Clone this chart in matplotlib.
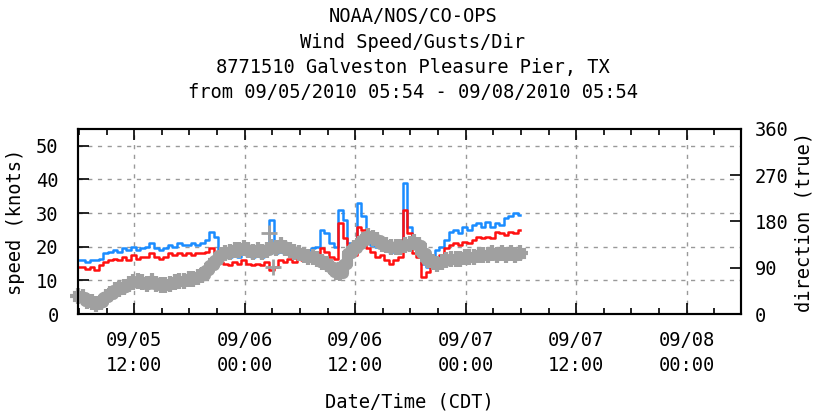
import numpy as np
import pandas as pd
import matplotlib
matplotlib.use("Agg")
import matplotlib.pyplot as plt
import matplotlib.dates as mdates

plt.rcParams['font.family'] = ['DejaVu Sans Mono']

# 30-minute samples, 09/05/2010 05:54 -> 09/07/2010 05:54 (CDT)
times = pd.date_range('2010-09-05 05:54', periods=97, freq='30min')

gust_kn = [16, 16, 15.5, 16, 16, 16.5, 18, 18.5, 19, 18.5,
           19.5, 19, 20, 19, 19.5, 20, 21, 19.5, 19, 19.5,
           20.5, 20, 21, 20.5, 20.5, 21, 20.5, 21, 22, 24.5,
           23, 18, 17.5, 17, 17.5, 17, 18, 17.5, 17, 17.5,
           17, 18, 28, 18, 18.5, 18, 18.5, 18, 19, 18.5,
           19, 19.5, 20, 25, 24, 21, 20, 31, 28, 21,
           20, 33, 29, 22, 20.5, 20, 19.5, 19, 18.5, 19,
           20, 39, 26, 21, 20, 15, 14, 16.5, 19, 20,
           22, 24.5, 25, 24, 26, 25, 26.5, 27, 26, 27.5,
           26, 27, 26.5, 28.5, 29, 30, 29.5]

speed_kn = [14, 14, 13.5, 14, 13, 14.5, 15.5, 16, 16.5, 16,
            17, 16, 17.5, 16.5, 17, 17, 18, 17, 16.5, 17,
            18, 17.5, 18, 17.5, 18, 17.5, 18, 18, 18.5, 19.5,
            18, 15.5, 15, 14.5, 15.5, 15, 16, 15, 14.5, 15,
            14.5, 15.5, 13, 14, 16, 15.5, 16.5, 15.5, 16.5, 16,
            16.5, 17, 18, 19.5, 18.5, 17, 16.5, 27, 22.5, 18,
            17.5, 26, 25, 19.5, 18.5, 17, 17.5, 16, 15, 16,
            17, 31, 24, 18, 17, 11, 12.5, 14, 17, 17.5,
            19.5, 20.5, 21, 20.5, 21.5, 21, 22, 23, 22.5, 23,
            22.5, 24.5, 24, 23.5, 24.5, 24, 25]

dir_deg = [36, 33, 26, 23, 20, 23, 33, 39, 46, 49,
           52, 59, 62, 65, 62, 59, 65, 59, 56, 56,
           59, 62, 65, 65, 69, 69, 72, 75, 85, 95,
           105, 115, 118, 121, 124, 124, 128, 124, 121, 124,
           121, 124, 131, 128, 134, 128, 124, 121, 118, 115,
           111, 111, 108, 101, 98, 92, 82, 79, 98, 118,
           128, 137, 144, 151, 147, 144, 137, 134, 131, 131,
           131, 134, 137, 141, 134, 118, 105, 101, 98, 101,
           105, 108, 108, 108, 111, 111, 111, 115, 115, 115,
           118, 115, 118, 115, 118, 115, 118]

dir_odd_times = pd.to_datetime(['2010-09-06 02:36', '2010-09-06 03:06'])
dir_odd_deg = [157, 92]

blue = '#1a8cff'
red = '#ff1010'
grey = '#a0a0a0'

fig = plt.figure(figsize=(8.18, 4.16), dpi=100)
ax = fig.add_axes([78 / 818, 1 - 314 / 416, (741 - 78) / 818, (314 - 129) / 416])
ax2 = ax.twinx()

ax.plot(times, gust_kn, color=blue, lw=1.8, drawstyle='steps-mid', zorder=3)
ax.plot(times, speed_kn, color=red, lw=1.8, drawstyle='steps-mid', zorder=4)
ax2.plot(times, dir_deg, color=grey, lw=8, marker='+', ms=12, mew=3,
         drawstyle='steps-mid', clip_on=False)
ax2.plot(dir_odd_times, dir_odd_deg, color=grey, lw=0, marker='+', ms=12, mew=2)

ax.set_xlim(pd.Timestamp('2010-09-05 05:54'), pd.Timestamp('2010-09-08 05:54'))
ax.set_ylim(0, 55)
ax2.set_ylim(0, 360)

ax.xaxis.set_major_locator(mdates.HourLocator(byhour=[0, 12]))
ax.xaxis.set_minor_locator(mdates.HourLocator(byhour=range(0, 24, 3)))
ax.xaxis.set_major_formatter(mdates.DateFormatter('%m/%d\n%H:%M'))
ax.set_yticks([0, 10, 20, 30, 40, 50])
ax2.set_yticks([0, 90, 180, 270, 360])

ax.tick_params(axis='x', which='major', direction='in', length=8, width=1.2,
               top=True, labelsize=13.5, pad=12)
ax.tick_params(axis='x', which='minor', direction='in', length=4, width=1.2, top=True)
ax.tick_params(axis='y', which='major', direction='in', length=8, width=1.2,
               labelsize=13.5, pad=14)
ax2.tick_params(axis='y', direction='in', length=8, width=1.2, labelsize=13.5, pad=10)
for lab in ax.get_xticklabels():
    lab.set_linespacing(1.45)

ax.grid(True, which='major', color='#999999', lw=1, linestyle=(0, (3, 4)))
for sp in list(ax.spines.values()) + list(ax2.spines.values()):
    sp.set_linewidth(1.5)

ax.set_ylabel('speed (knots)', fontsize=13.5, labelpad=8)
ax2.set_ylabel('direction (true)', fontsize=13.5, labelpad=4)
ax.set_xlabel('Date/Time (CDT)', fontsize=13.5, labelpad=12)

title = ['NOAA/NOS/CO-OPS', 'Wind Speed/Gusts/Dir',
         '8771510 Galveston Pleasure Pier, TX',
         'from 09/05/2010 05:54 - 09/08/2010 05:54']
for k, line in enumerate(title):
    fig.text(413 / 818, 1 - (17 + 25 * k) / 416, line, ha='center', va='center',
             fontsize=13.5)

fig.savefig('out.png', dpi=100)
